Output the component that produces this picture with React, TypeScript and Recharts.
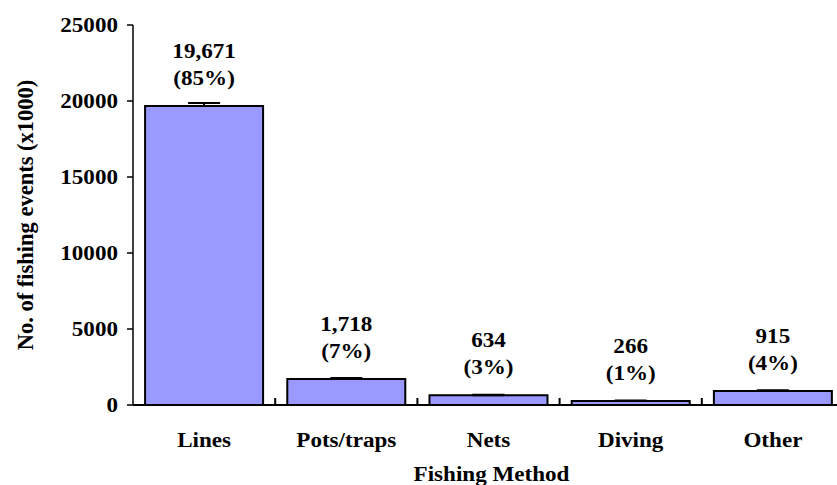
import { BarChart, Bar, XAxis, YAxis, ErrorBar, LabelList, Label } from "recharts";

const categories = ["Lines", "Pots/traps", "Nets", "Diving", "Other"];
const events = [19671, 1718, 634, 266, 915];
const shares = [85, 7, 3, 1, 4];
const errors = [200, 60, 40, 30, 60];
const yTicks = [0, 5000, 10000, 15000, 20000, 25000];

const FONT = '"Liberation Serif", "Times New Roman", serif';
// the reference's lettering is a little wider than the font, so stretch it
const STRETCH = 1.1;
const CHART_W = 844;
const Y_AXIS_W = 133;
const BAND = (CHART_W - Y_AXIS_W) / categories.length;

const data = categories.map((name, i) => ({
  name,
  value: events[i],
  err: [0, errors[i]],
}));

function WideText({ x, y, anchor = "middle", size = 21, children }: any) {
  return (
    <text
      transform={`translate(${x}, ${y}) scale(${STRETCH}, 1)`}
      textAnchor={anchor}
      fontFamily={FONT}
      fontWeight="bold"
      fontSize={size}
      fill="#000"
    >
      {children}
    </text>
  );
}

function BarLabel(props: any) {
  const { x, y, width, value } = props;
  const i = categories.indexOf(value);
  if (i < 0) return null;
  const cx = x + width / 2;
  return (
    <g>
      <WideText x={cx} y={y - 48}>{events[i].toLocaleString("en-US")}</WideText>
      <WideText x={cx} y={y - 21}>{`(${shares[i]}%)`}</WideText>
    </g>
  );
}

// category label, plus the little upward tick on the left edge of its band
function CategoryTick(props: any) {
  const { x, y, payload } = props;
  const i = categories.indexOf(payload.value);
  const edge = x - BAND / 2;
  return (
    <g>
      {i > 0 ? <line x1={edge} x2={edge} y1={y - 7} y2={y} stroke="#000" strokeWidth={2} /> : null}
      <WideText x={x} y={y + 42}>{payload.value}</WideText>
    </g>
  );
}

function ValueTick(props: any) {
  const { x, y, payload } = props;
  return (
    <WideText x={x} y={y + 7} anchor="end">
      {payload.value}
    </WideText>
  );
}

export default function App() {
  return (
    <div style={{ position: "absolute", left: 0, top: 0, width: 837, height: 485, overflow: "hidden", background: "#fff" }}>
      <BarChart
        width={CHART_W}
        height={485}
        data={data}
        margin={{ top: 25, right: 0, bottom: 0, left: 0 }}
        barCategoryGap="8.5%"
      >
        <XAxis
          dataKey="name"
          height={80}
          tickLine={false}
          tickSize={0}
          tickMargin={0}
          axisLine={{ stroke: "#000", strokeWidth: 2 }}
          tick={<CategoryTick />}
          interval={0}
        >
          <Label
            content={({ viewBox }: any) => (
              <WideText x={viewBox.x + viewBox.width / 2 + 3} y={481}>
                Fishing Method
              </WideText>
            )}
          />
        </XAxis>
        <YAxis
          width={Y_AXIS_W}
          domain={[0, 25000]}
          ticks={yTicks}
          interval={0}
          tickSize={6}
          tickMargin={9}
          axisLine={{ stroke: "#000", strokeWidth: 1.5 }}
          tickLine={{ stroke: "#000", strokeWidth: 1.5 }}
          tick={<ValueTick />}
        >
          <Label
            content={({ viewBox }: any) => {
              const cy = viewBox.y + viewBox.height / 2;
              return (
                <text
                  x={33}
                  y={cy}
                  transform={`rotate(-90, 33, ${cy})`}
                  textAnchor="middle"
                  fontFamily={FONT}
                  fontWeight="bold"
                  fontSize={22.5}
                  fill="#000"
                >
                  No. of fishing events (x1000)
                </text>
              );
            }}
          />
        </YAxis>
        <Bar dataKey="value" fill="#9999FF" stroke="#000" strokeWidth={2} isAnimationActive={false}>
          <ErrorBar dataKey="err" direction="y" width={16} stroke="#000" strokeWidth={2} />
          <LabelList dataKey="name" content={<BarLabel />} />
        </Bar>
      </BarChart>
    </div>
  );
}
